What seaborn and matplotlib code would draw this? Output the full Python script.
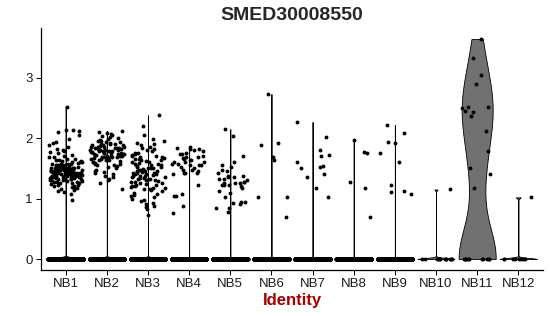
import numpy as np
import pandas as pd
import matplotlib
matplotlib.use("Agg")
import matplotlib.pyplot as plt
import seaborn as sns

categories = ["NB1", "NB2", "NB3", "NB4", "NB5", "NB6", "NB7", "NB8", "NB9", "NB10", "NB11", "NB12"]

# number of cells with zero expression per identity
zero_counts = [2500, 2500, 2500, 2000, 2000, 1500, 1500, 1200, 1200, 12, 11, 8]

NB1 = [2.52, 2.13, 2.10, 2.13, 2.12, 2.05, 1.92, 1.93, 1.77, 1.78, 1.69, 1.11, 1.08, 1.12, 0.98,
       1.98, 1.88, 1.85, 1.82, 1.80, 1.75, 1.72, 1.70, 1.68, 1.66, 1.65, 1.64, 1.63, 1.62, 1.62,
       1.61, 1.60, 1.60, 1.59, 1.58, 1.58, 1.57, 1.57, 1.56, 1.56, 1.55, 1.55, 1.55, 1.54, 1.54,
       1.53, 1.53, 1.53, 1.52, 1.52, 1.52, 1.51, 1.51, 1.51, 1.50, 1.50, 1.50, 1.50, 1.49, 1.49,
       1.49, 1.48, 1.48, 1.48, 1.48, 1.47, 1.47, 1.47, 1.47, 1.46, 1.46, 1.46, 1.46, 1.45, 1.45,
       1.45, 1.45, 1.45, 1.44, 1.44, 1.44, 1.44, 1.43, 1.43, 1.43, 1.43, 1.43, 1.42, 1.42, 1.42,
       1.42, 1.42, 1.41, 1.41, 1.41, 1.41, 1.40, 1.40, 1.40, 1.40, 1.40, 1.39, 1.39, 1.39, 1.39,
       1.38, 1.38, 1.38, 1.38, 1.37, 1.37, 1.37, 1.37, 1.36, 1.36, 1.36, 1.35, 1.35, 1.35, 1.34,
       1.34, 1.34, 1.33, 1.33, 1.33, 1.32, 1.32, 1.31, 1.31, 1.30, 1.30, 1.29, 1.29, 1.28, 1.28,
       1.27, 1.26, 1.26, 1.25, 1.24, 1.23, 1.22, 1.21, 1.20, 1.19, 1.18, 1.17, 1.15, 1.14]
NB2 = [2.12, 2.10, 2.08, 2.07, 2.05, 2.04, 2.02, 2.00, 1.98, 1.97, 1.96, 1.95, 1.94, 1.93, 1.92,
       1.91, 1.90, 1.90, 1.89, 1.88, 1.88, 1.87, 1.86, 1.86, 1.85, 1.85, 1.84, 1.84, 1.83, 1.83,
       1.82, 1.82, 1.81, 1.81, 1.80, 1.80, 1.79, 1.79, 1.78, 1.78, 1.77, 1.77, 1.76, 1.76, 1.75,
       1.75, 1.74, 1.74, 1.73, 1.73, 1.72, 1.72, 1.71, 1.71, 1.70, 1.70, 1.69, 1.69, 1.68, 1.68,
       1.67, 1.67, 1.66, 1.65, 1.65, 1.64, 1.63, 1.63, 1.62, 1.61, 1.60, 1.59, 1.58, 1.57, 1.56,
       1.55, 1.54, 1.52, 1.50, 1.48, 1.46, 1.44, 1.42, 1.40, 1.38, 1.36, 1.33, 1.30, 1.25, 1.15]
NB3 = [2.38, 2.20, 1.98, 2.05, 1.95, 1.92, 1.90, 1.88, 1.86, 1.84, 1.82, 1.80, 1.78, 1.76, 1.75,
       1.74, 1.72, 1.71, 1.70, 1.69, 1.68, 1.67, 1.66, 1.65, 1.64, 1.63, 1.62, 1.61, 1.60, 1.59,
       1.58, 1.57, 1.56, 1.55, 1.54, 1.53, 1.52, 1.51, 1.50, 1.50, 1.49, 1.48, 1.47, 1.46, 1.46,
       1.45, 1.44, 1.43, 1.43, 1.42, 1.41, 1.40, 1.40, 1.39, 1.38, 1.37, 1.37, 1.36, 1.35, 1.34,
       1.34, 1.33, 1.32, 1.31, 1.30, 1.30, 1.29, 1.28, 1.27, 1.26, 1.25, 1.24, 1.23, 1.22, 1.21,
       1.20, 1.19, 1.18, 1.17, 1.16, 1.15, 1.14, 1.12, 1.10, 1.08, 1.06, 1.04, 1.02, 1.00, 0.98,
       0.96, 0.93, 0.91, 0.88, 0.86, 0.83, 0.73]
NB4 = [1.85, 1.84, 1.82, 1.80, 1.82, 1.78, 1.75, 1.73, 1.73, 1.70, 1.69, 1.69, 1.67, 1.65, 1.63,
       1.63, 1.61, 1.60, 1.60, 1.58, 1.58, 1.56, 1.55, 1.55, 1.52, 1.50, 1.48, 1.47, 1.45, 1.43,
       1.43, 1.42, 1.40, 1.22, 1.07, 1.05, 1.05, 0.88, 0.76]
NB5 = [2.15, 2.04, 1.70, 1.60, 1.55, 1.53, 1.48, 1.46, 1.42, 1.38, 1.37, 1.36, 1.35, 1.33, 1.32,
       1.30, 1.28, 1.27, 1.26, 1.26, 1.25, 1.23, 1.23, 1.22, 1.20, 1.18, 1.13, 1.09, 1.03, 0.95,
       0.95, 0.92, 0.91, 0.85, 0.84, 0.78]
NB6 = [2.73, 1.92, 1.89, 1.69, 1.64, 1.03, 1.02, 0.69]
NB7 = [2.27, 2.02, 1.80, 1.72, 1.70, 1.61, 1.54, 1.52, 1.51, 1.40, 1.36, 1.17, 1.03]
NB8 = [1.97, 1.77, 1.76, 1.28, 1.18, 0.70]
NB9 = [2.22, 2.09, 1.94, 1.92, 1.76, 1.61, 1.23, 1.13, 1.11, 1.08]
NB10 = [1.15]
NB11 = [3.64, 3.33, 3.05, 2.90, 2.52, 2.52, 2.50, 2.45, 2.44, 2.37, 2.12, 1.79, 1.50, 1.41, 1.17]
NB12 = [1.02]

nonzero = [NB1, NB2, NB3, NB4, NB5, NB6, NB7, NB8, NB9, NB10, NB11, NB12]

rows = []
for cat, nz, vals in zip(categories, zero_counts, nonzero):
    for v in list(vals) + [0.0] * nz:
        rows.append((cat, v))
df = pd.DataFrame(rows, columns=["Identity", "Expression"])
df["Identity"] = pd.Categorical(df["Identity"], categories=categories, ordered=True)

sns.set_style("white")
plt.rcParams["font.family"] = ["Liberation Sans", "DejaVu Sans"]

fig = plt.figure(figsize=(5.5, 3.16), dpi=100)
ax = fig.add_axes([41 / 550, 1 - 270 / 316, (543 - 41) / 550, (270 - 28) / 316])

fill = "#717171"
sparse = ["NB11"]
df_dense = df[~df["Identity"].isin(sparse)].copy()
df_sparse = df[df["Identity"].isin(sparse)].copy()

sns.violinplot(data=df_dense, x="Identity", y="Expression", order=categories,
               color=fill, density_norm="width", cut=0, inner=None,
               bw_method=0.05, linewidth=0.6, linecolor="black", width=0.9,
               saturation=1, ax=ax)
sns.violinplot(data=df_sparse, x="Identity", y="Expression", order=categories,
               color=fill, density_norm="width", cut=0, inner=None,
               bw_adjust=0.8, linewidth=0.6, linecolor="black", width=0.9,
               saturation=1, ax=ax)

np.random.seed(3)
sns.stripplot(data=df, x="Identity", y="Expression", order=categories,
              color="black", size=2.8, jitter=0.42, linewidth=0, ax=ax, zorder=5)

ax.set_xlim(-0.6, 11.6)
ax.set_ylim(-0.182, 3.822)
ax.set_yticks([0, 1, 2, 3])
ax.set_yticklabels(["0", "1", "2", "3"])
ax.set_xticks(range(len(categories)))
ax.set_xticklabels(categories)

for s in ["top", "right"]:
    ax.spines[s].set_visible(False)
for s in ["left", "bottom"]:
    ax.spines[s].set_color("black")
    ax.spines[s].set_linewidth(0.9)

ax.tick_params(axis="both", which="both", length=3.5, width=0.7, color="black",
               labelsize=9.5, labelcolor="#1a1a1a", pad=2.5, left=True, bottom=True)
ax.set_ylabel("")
ax.set_xlabel("Identity", fontsize=12, fontweight="bold", color="#a00000", labelpad=2)
ax.set_title("SMED30008550", fontsize=14, fontweight="bold", pad=6)
ax.grid(False)

fig.savefig("out.png", dpi=100)
